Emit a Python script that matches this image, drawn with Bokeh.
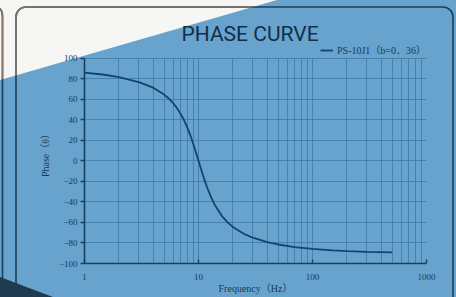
from urllib.parse import quote
from bokeh.plotting import figure
from bokeh.models import (FixedTicker, Legend, LegendItem, Range1d,
                          NumeralTickFormatter)
from bokeh.embed import file_html
from bokeh.resources import INLINE

# ---- data ----
freq_hz = [1, 1.5, 2, 3, 4, 5, 5.5, 6, 6.5, 7, 7.5, 8, 8.5, 9, 9.5, 10, 10.5, 11,
           11.5, 12, 13, 14, 16, 18, 20, 25, 30, 40, 50, 70, 100, 150, 200, 300, 500]
phase_deg = [85.8, 83.7, 81.5, 76.6, 71.1, 64.4, 60.4, 56.0, 51.0, 45.3, 39.0, 32.0,
             24.4, 16.3, 8.1, 0.0, -7.7, -14.9, -21.3, -27.0, -36.4, -43.6, -53.6,
             -60.0, -64.4, -71.1, -74.9, -79.1, -81.5, -84.0, -85.8, -87.2, -87.9,
             -88.6, -89.2]
x_ticks = [1, 10, 100, 1000]
x_tick_labels = ["1", "10", "100", "1000"]
y_ticks = [-100, -80, -60, -40, -20, 0, 20, 40, 60, 80, 100]
title_text = "PHASE CURVE"
series_name = "PS-10J1（b=0．36）"
x_label = "Frequency（Hz）"
y_label = "Phase（θ）"

BG = "#68a3ce"
GRID = "#3f78a6"
DARK = "#15405e"
TXT = "#173a55"
LINE = "#0d4770"
SERIF = "'Liberation Serif', 'Noto Sans CJK SC'"

# decorative backdrop (photo-like card) drawn as CSS background
svg = (
    "<svg xmlns='http://www.w3.org/2000/svg' width='456' height='297' viewBox='0 0 456 297'>"
    "<defs><clipPath id='w'><polygon points='0,0 277,0 0,80'/></clipPath></defs>"
    f"<rect width='456' height='297' fill='{BG}'/>"
    "<polygon points='0,0 277,0 0,80' fill='#f6f6f4'/>"
    "<polygon points='0,277 53,297 0,297' fill='#1e3b50'/>"
    "<rect x='16' y='7' width='437' height='330' rx='10' fill='none' stroke='#1f3e55' stroke-width='1.6'/>"
    "<path d='M-10,7 L-6,7 Q2.5,7 2.5,16 L2.5,300' fill='none' stroke='#1f3e55' stroke-width='1.6'/>"
    "<g clip-path='url(#w)'>"
    "<rect x='16' y='7' width='437' height='330' rx='10' fill='none' stroke='#857468' stroke-width='1.6'/>"
    "<path d='M-10,7 L-6,7 Q2.5,7 2.5,16 L2.5,300' fill='none' stroke='#857468' stroke-width='1.6'/>"
    "</g></svg>"
)
uri = "data:image/svg+xml;charset=utf-8," + quote(svg)

# frame extends a little above +100 so that the legend can sit there
p = figure(width=456, height=297, x_axis_type="log",
           x_range=Range1d(1, 1000), y_range=Range1d(-100, 115.1),
           output_backend="svg", toolbar_location=None,
           min_border_left=84, min_border_right=30,
           min_border_top=42, min_border_bottom=34,
           background_fill_alpha=0, border_fill_alpha=0,
           outline_line_color=None)
p.styles = {"background-image": f'url("{uri}")', "background-size": "100% 100%"}

# grids
minor = [m * d for d in [1, 10, 100] for m in range(2, 10)]
p.xgrid.ticker = FixedTicker(ticks=x_ticks, minor_ticks=minor)
p.xgrid.cross_bounds = (y_ticks[0], y_ticks[-1])
p.xgrid.grid_line_color = GRID
p.xgrid.grid_line_alpha = 0.8
p.xgrid.minor_grid_line_color = GRID
p.xgrid.minor_grid_line_alpha = 0.8
p.ygrid.ticker = FixedTicker(ticks=y_ticks)
p.ygrid.grid_line_color = GRID
p.ygrid.grid_line_alpha = 0.8

# axes
p.xaxis.ticker = FixedTicker(ticks=x_ticks, minor_ticks=[])
p.xaxis.formatter = NumeralTickFormatter(format="0")
p.xaxis.major_label_overrides = {t: l for t, l in zip(x_ticks, x_tick_labels)}
p.yaxis.ticker = FixedTicker(ticks=y_ticks, minor_ticks=[])
p.yaxis.bounds = (y_ticks[0], y_ticks[-1])
for ax in (p.xaxis, p.yaxis):
    ax.axis_line_color = DARK
    ax.axis_line_width = 1.6
    ax.major_tick_line_color = DARK
    ax.major_tick_line_width = 1.4
    ax.minor_tick_line_color = None
    ax.major_label_text_font = SERIF
    ax.major_label_text_font_size = "9px"
    ax.major_label_text_color = TXT
    ax.axis_label_text_font = SERIF
    ax.axis_label_text_font_style = "normal"
    ax.axis_label_text_font_size = "10px"
    ax.axis_label_text_color = TXT
p.xaxis.major_tick_in = 4
p.xaxis.major_tick_out = 0
p.xaxis.major_label_standoff = 10
p.xaxis.axis_label = x_label
p.xaxis.axis_label_standoff = 0
p.yaxis.major_tick_in = 0
p.yaxis.major_tick_out = 4
p.yaxis.major_label_standoff = 3
p.yaxis.axis_label = y_label
p.yaxis.axis_label_standoff = 5

line = p.line(freq_hz, phase_deg, line_color=LINE, line_width=1.8)

legend = Legend(items=[LegendItem(label=series_name, renderers=[line])],
                location="top_right", border_line_color=None,
                background_fill_alpha=0, padding=0, margin=0,
                glyph_width=13, glyph_height=10, label_height=10,
                label_standoff=4, label_text_font=SERIF,
                label_text_font_size="10px", label_text_color=TXT)
p.add_layout(legend)

p.title.text = title_text
p.title.align = "left"
p.title.offset = 97
p.title.standoff = -6
p.title.text_font = "Roboto"
p.title.text_font_size = "21px"
p.title.text_font_style = "normal"
p.title.text_color = "#10304a"

open("out.html", "w").write(file_html(p, INLINE))
